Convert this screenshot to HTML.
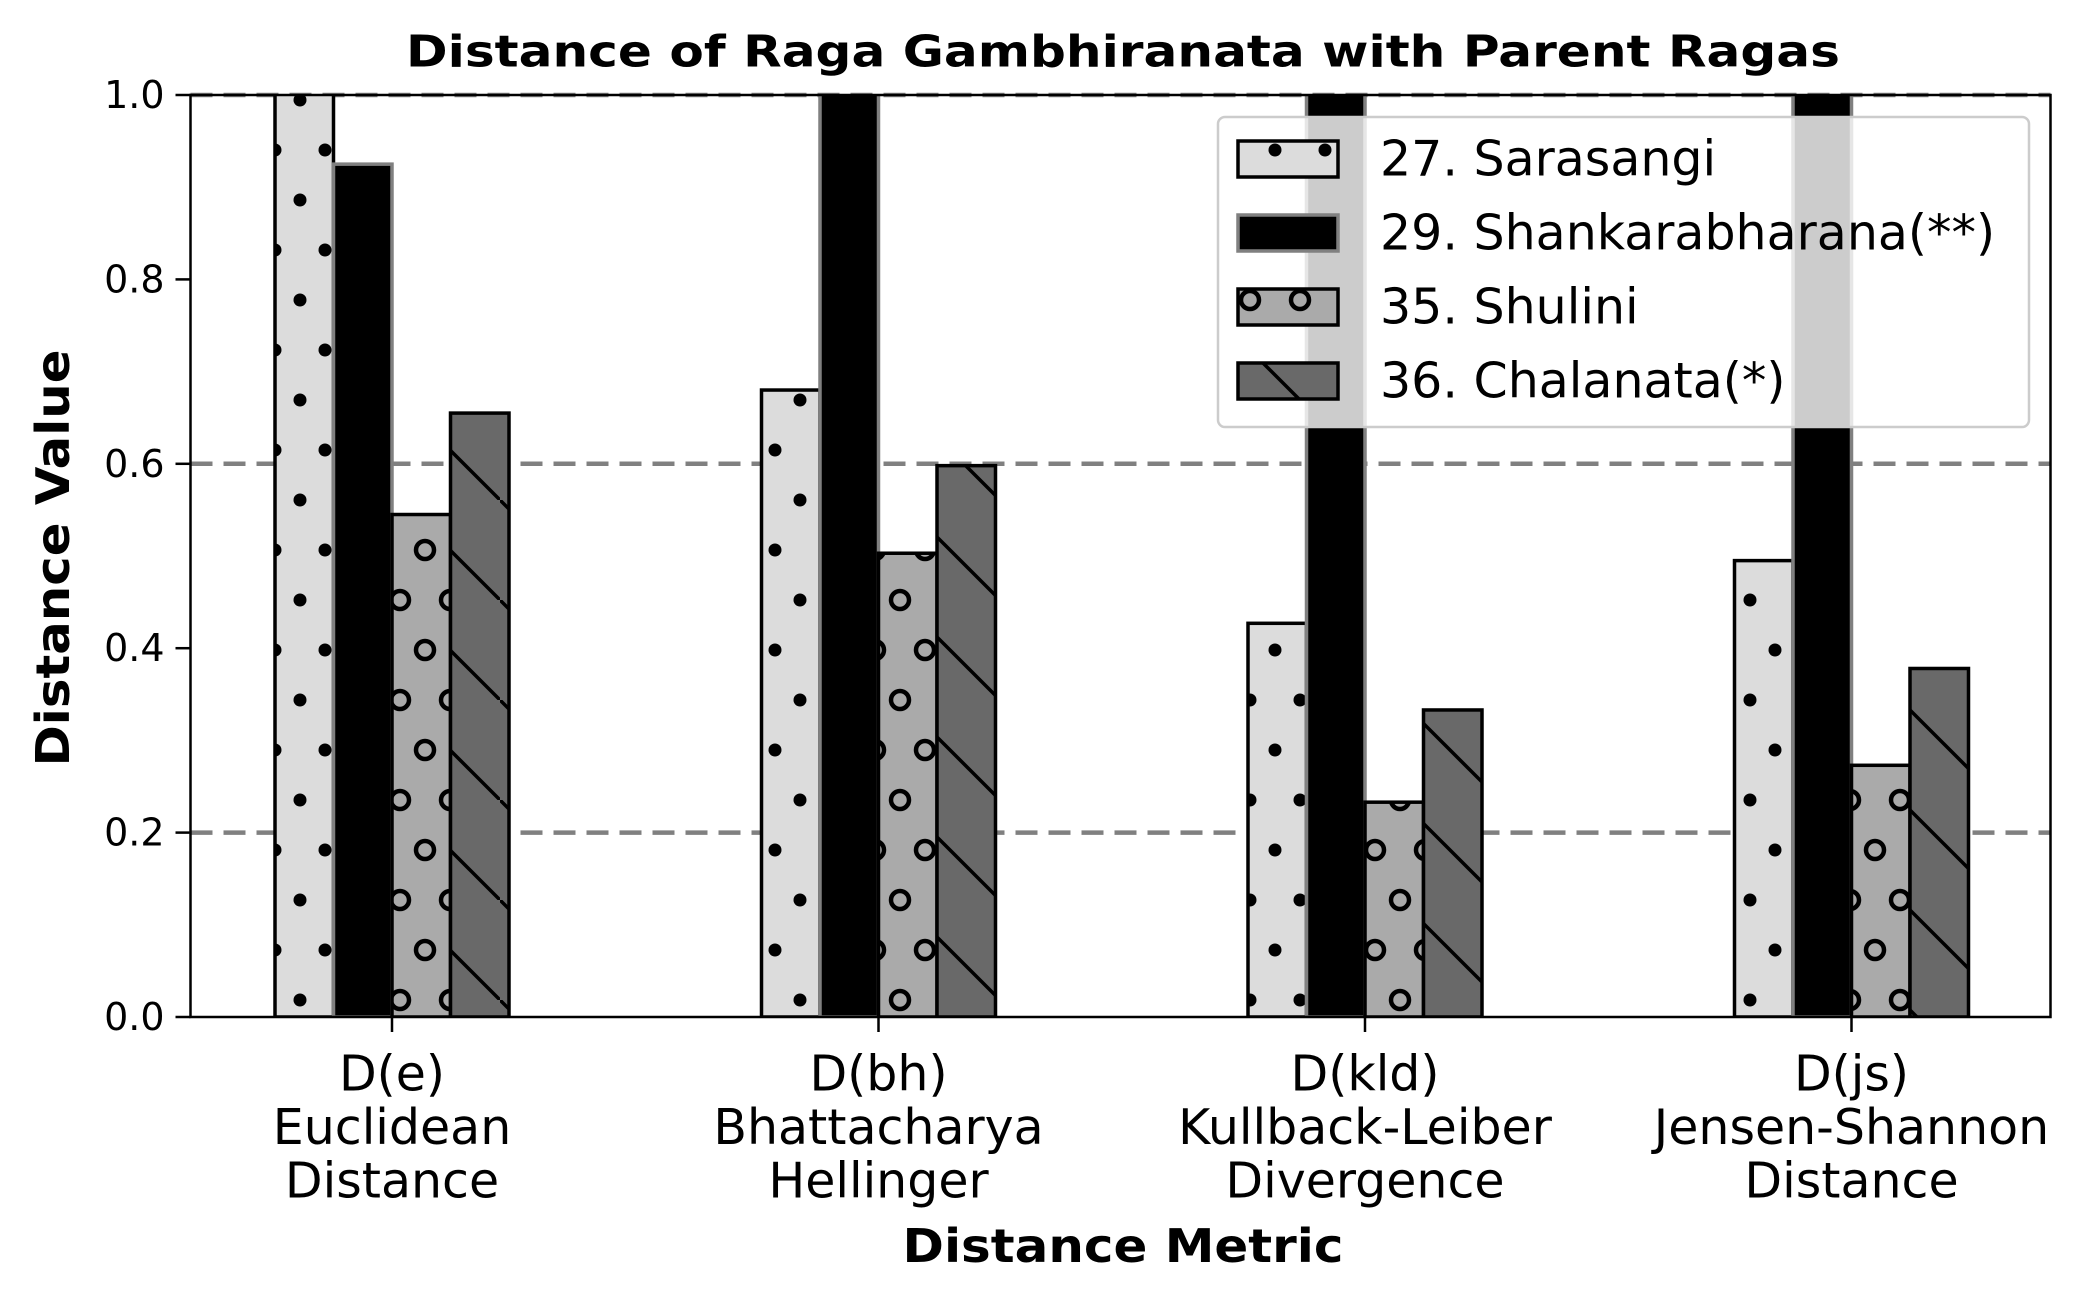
<!DOCTYPE html>
<html><head><meta charset="utf-8"><style>
html,body{margin:0;padding:0;background:#fff;}
svg{display:block;font-family:"DejaVu Sans","Liberation Sans",sans-serif;}
</style></head><body>
<svg id="chart" width="2080" height="1300" viewBox="0 0 2080 1300" xmlns="http://www.w3.org/2000/svg">
<defs>
<pattern id="p-dots" patternUnits="userSpaceOnUse" width="50" height="100">
<circle cx="0" cy="0" r="6.5" fill="#000"/><circle cx="50" cy="0" r="6.5" fill="#000"/>
<circle cx="0" cy="100" r="6.5" fill="#000"/><circle cx="50" cy="100" r="6.5" fill="#000"/>
<circle cx="25" cy="50" r="6.5" fill="#000"/>
</pattern>
<pattern id="p-circ" patternUnits="userSpaceOnUse" width="50" height="100">
<g fill="none" stroke="#000" stroke-width="4.5">
<circle cx="0" cy="0" r="9"/><circle cx="50" cy="0" r="9"/>
<circle cx="0" cy="100" r="9"/><circle cx="50" cy="100" r="9"/>
<circle cx="25" cy="50" r="9"/></g>
</pattern>
<pattern id="p-diag" patternUnits="userSpaceOnUse" width="100" height="100">
<line x1="-5" y1="-5" x2="105" y2="105" stroke="#000" stroke-width="3.5"/>
</pattern>
<clipPath id="plot-clip"><rect x="190.5" y="95" width="1860" height="922"/></clipPath>
</defs>
<g id="grid"></g>
<g id="bars" clip-path="url(#plot-clip)"></g>
<g id="axes"></g>
<g id="legend"></g>
<text x="1123" y="52" text-anchor="middle" dominant-baseline="central" font-weight="bold" font-size="44" textLength="1434" lengthAdjust="spacingAndGlyphs">Distance of Raga Gambhiranata with Parent Ragas</text>
<text transform="translate(53,558) rotate(-90)" text-anchor="middle" dominant-baseline="central" font-weight="bold" font-size="46" textLength="417" lengthAdjust="spacingAndGlyphs">Distance Value</text>
<text x="1123" y="1246" text-anchor="middle" dominant-baseline="central" font-weight="bold" font-size="46" textLength="441" lengthAdjust="spacingAndGlyphs">Distance Metric</text>
</svg>
<script>
const categories = [["D(e)","Euclidean","Distance"],["D(bh)","Bhattacharya","Hellinger"],["D(kld)","Kullback-Leiber","Divergence"],["D(js)","Jensen-Shannon","Distance"]];
const seriesNames = ["27. Sarasangi","29. Shankarabharana(**)","35. Shulini","36. Chalanata(*)"];
const sarasangi = [1.10, 0.68, 0.427, 0.495];
const shankarabharana = [0.925, 1.25, 1.40, 1.35];
const shulini = [0.545, 0.503, 0.233, 0.273];
const chalanata = [0.655, 0.598, 0.333, 0.378];
const yTicks = [0.0, 0.2, 0.4, 0.6, 0.8, 1.0];
const yTickLabels = ["0.0","0.2","0.4","0.6","0.8","1.0"];
const refLines = [0.2, 0.6, 1.0];

const NS = "http://www.w3.org/2000/svg";
const L = 190.5, R = 2050.5, T = 95, B = 1017;
const yMin = 0, yMax = 1;
const groupX0 = 392, groupStep = 486.5, barW = 58.5;
function yScale(v){ return B - (v - yMin) / (yMax - yMin) * (B - T); }
function xScale(i){ return groupX0 + groupStep * i; }
function mk(tag, attrs, parent){ const e = document.createElementNS(NS, tag); for (const k in attrs) e.setAttribute(k, attrs[k]); parent.appendChild(e); return e; }

const styles = [
  {fill:"#dcdcdc", stroke:"#000", pat:"url(#p-dots)"},
  {fill:"#000", stroke:"#808080", pat:null},
  {fill:"#aaaaaa", stroke:"#000", pat:"url(#p-circ)"},
  {fill:"#696969", stroke:"#000", pat:"url(#p-diag)"}
];
const allSeries = [sarasangi, shankarabharana, shulini, chalanata];
const seriesKeys = ["sarasangi","shankarabharana","shulini","chalanata"];

const grid = document.getElementById("grid");
refLines.forEach(v => {
  const ln = mk("line", {x1:L, x2:R, y1:yScale(v), y2:yScale(v), stroke:"#808080", "stroke-width":4.5, "stroke-dasharray":"22 11"}, grid);
  
  
});

const bars = document.getElementById("bars");
allSeries.forEach((vals, s) => {
  vals.forEach((v, i) => {
    const x = xScale(i) + (s - 2) * barW;
    const y = yScale(v);
    const h = yScale(0) - y;
    const g = mk("g", {}, bars);
    
    
    mk("rect", {x:x, y:y, width:barW, height:h, fill:styles[s].fill}, g);
    if (styles[s].pat) mk("rect", {x:x, y:y, width:barW, height:h, fill:styles[s].pat}, g);
    mk("rect", {x:x, y:y, width:barW, height:h, fill:"none", stroke:styles[s].stroke, "stroke-width":3.5}, g);
  });
});

const axes = document.getElementById("axes");
const frame = mk("rect", {x:L, y:T, width:R-L, height:B-T, fill:"none", stroke:"#000", "stroke-width":2.5}, axes);


yTicks.forEach((v, k) => {
  const y = yScale(v);
  const t = mk("line", {x1:L-15, x2:L, y1:y, y2:y, stroke:"#000", "stroke-width":2.5}, axes);
  
  
  const tx = mk("text", {x:L-26, y:y, "text-anchor":"end", "dominant-baseline":"central", "font-size":38}, axes);
  tx.textContent = yTickLabels[k];
  
  
});
categories.forEach((lines, i) => {
  const x = xScale(i);
  const t = mk("line", {x1:x, x2:x, y1:B, y2:B+15, stroke:"#000", "stroke-width":2.5}, axes);
  
  
  lines.forEach((s, j) => {
    const tx = mk("text", {x:x, y:1074 + j*53.5, "text-anchor":"middle", "dominant-baseline":"central", "font-size":49}, axes);
    tx.textContent = s;
    
    
  });
});

const leg = document.getElementById("legend");


mk("rect", {x:1218, y:117, width:811, height:310, rx:7, fill:"#fff", "fill-opacity":0.8, stroke:"#cccccc", "stroke-width":2.5}, leg);
seriesNames.forEach((name, s) => {
  const cy = 159 + s * 74;
  const g = mk("g", {}, leg);
  
  
  mk("rect", {x:1238, y:cy-18, width:100, height:36, fill:styles[s].fill}, g);
  if (styles[s].pat) mk("rect", {x:1238, y:cy-18, width:100, height:36, fill:styles[s].pat}, g);
  mk("rect", {x:1238, y:cy-18, width:100, height:36, fill:"none", stroke:styles[s].stroke, "stroke-width":3.5}, g);
  const tx = mk("text", {x:1380, y:cy, "dominant-baseline":"central", "font-size":49}, g);
  tx.textContent = name;
});
</script>
</body></html>
